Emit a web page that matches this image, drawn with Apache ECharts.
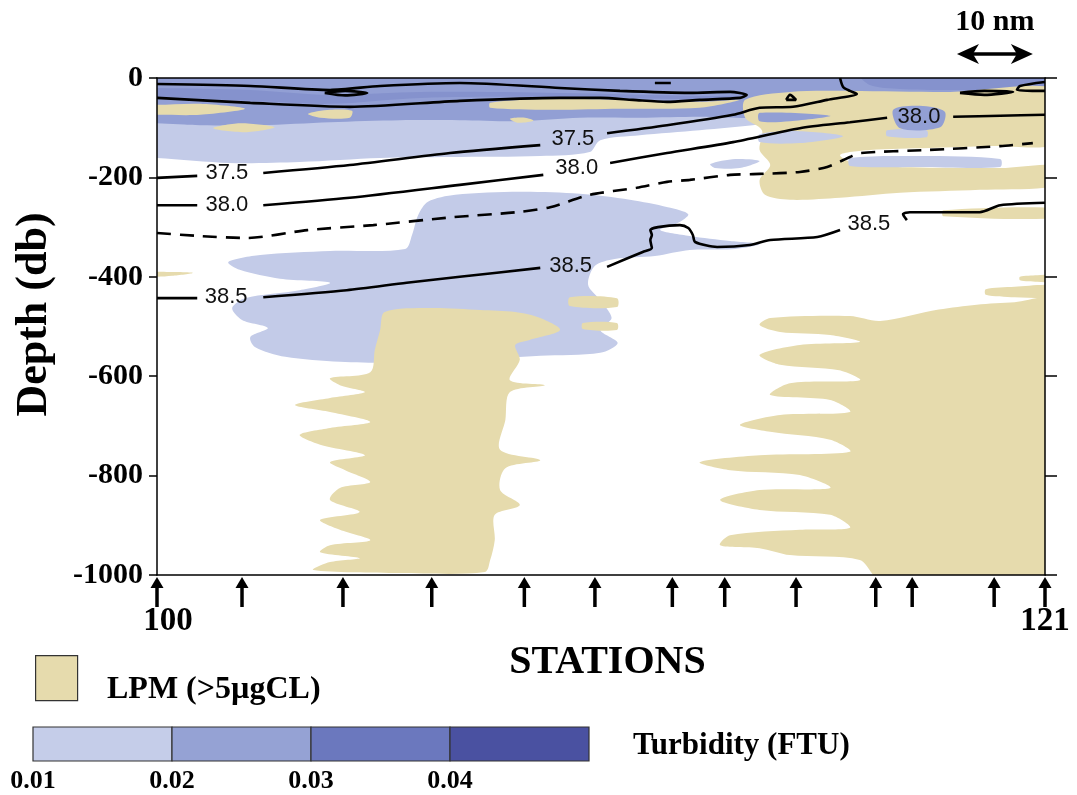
<!DOCTYPE html>
<html><head><meta charset="utf-8">
<script src="https://cdn.jsdelivr.net/npm/echarts@6/dist/echarts.min.js"></script>
<style>html,body{margin:0;padding:0;background:#fff}#c{width:1077px;height:795px}</style>
</head><body><div id="c"></div>
<script>
// ---------------- DATA ----------------
// x = distance along the section (nautical miles), y = depth (db)
const distanceRange = [0, 117];
const depthRange = [-1000, 0];
const depthStep = 200;
const stationPositions = [0, 11.2, 24.5, 36.2, 48.4, 57.7, 67.9, 74.8, 84.2, 94.7, 99.5, 110.3, 117];
const stationEndLabels = ['100', '121'];
const scaleBarStart = 105.4;
const scaleBarLength = 10;
const scaleBarText = '10 nm';

// Turbidity classes (FTU) and LPM
const turbidityBreaks = ['0.01', '0.02', '0.03', '0.04'];
const lpmLabel = 'LPM (>5\u00b5gCL)';
const turbidityLabel = 'Turbidity (FTU)';

// Turbidity 0.01-0.02 areas
const turbLight = [
  [[-2,8],[119,8],[119,-80],[97.9,-76],[83.4,-80],[79.4,-93],[71.5,-105],[63.6,-115],[58.4,-125],[57,-149],[50.5,-157],[38.6,-159],[29.4,-161],[18.8,-169],[9.6,-171],[0,-161],[-2,-161]],
  [[9.4,-370],[13.6,-356],[22.8,-348],[32.7,-344],[33.6,-316],[34.4,-276],[35.7,-249],[39.3,-235],[47.8,-229],[55.7,-233],[62.3,-245],[67.3,-260],[70,-274],[68.6,-292],[66.3,-306],[70.2,-318],[75.5,-328],[79.4,-334],[76.2,-344],[70.2,-346],[65.6,-358],[60.3,-364],[57.7,-378],[56.8,-416],[58.4,-447],[59.9,-483],[58.4,-507],[60.7,-533],[58.4,-553],[50.5,-559],[41.2,-567],[32,-573],[24.1,-571],[16.9,-561],[12.9,-541],[12.3,-521],[14.6,-503],[11.2,-487],[9.9,-463],[11.6,-443],[18.8,-427],[22.8,-412],[16.2,-404],[10.9,-386]],
  [[72.9,-173],[76.2,-163],[79.4,-167],[76.8,-181],[73.5,-181]]
];
// Turbidity 0.02-0.03 areas
const turbMedium = [
  [[-2,8],[119,8],[119,-44],[104.5,-44],[91.3,-54],[83.4,-68],[79.4,-80],[71.5,-78],[63.6,-80],[55.7,-80],[47.8,-87],[39.9,-85],[32,-85],[22.8,-89],[13.6,-95],[5.7,-95],[0,-91],[-2,-91]]
];
// Turbidity 0.03-0.04 areas
const turbDark = [
  [[-2,-20],[0,-20],[12.3,-24],[22.8,-34],[34.7,-28],[53.1,-30],[71.5,-36],[76.8,-36],[71.5,-42],[53.1,-38],[34.7,-40],[22.8,-52],[12.3,-46],[0,-38],[-2,-38]],
  [[92.6,8],[119,8],[119,-20],[105.8,-24],[97.9,-22],[93.9,-14]]
];
// LPM > 5 ugC/L areas
const lpmAreas = [
  [[-2,-54],[0,-54],[5.7,-52],[11.6,-62],[5.7,-74],[0,-74],[-2,-74]],
  [[7.4,-101],[10.9,-91],[15.5,-99],[11.6,-109]],
  [[19.9,-72],[22.8,-64],[25.7,-66],[25.4,-80],[21.5,-80]],
  [[43.9,-50],[51.8,-42],[61,-44],[71.5,-48],[76.8,-44],[71.5,-60],[61,-62],[51.8,-64],[43.9,-60]],
  [[46.5,-82],[48.5,-80],[49.6,-86],[47.5,-90]],
  [[77.5,-44],[83.4,-28],[91.3,-26],[104.5,-28],[119,-24],[119,-129],[109.7,-137],[101.8,-141],[93.9,-145],[90,-155],[92.6,-175],[111.1,-181],[119,-177],[119,-215],[108.4,-225],[97.9,-231],[90,-241],[83.4,-245],[80.1,-235],[79.4,-205],[80.8,-175],[79.4,-145],[79.7,-105],[77.5,-80]],
  [[30,-471],[36,-463],[42.6,-467],[47.2,-471],[50.5,-483],[53.1,-507],[49.1,-527],[47.2,-537],[47.8,-567],[46.5,-608],[51.1,-618],[46.5,-632],[45.9,-688],[45.2,-748],[50.5,-769],[45.9,-785],[45.2,-829],[47.8,-859],[44.5,-879],[44.5,-930],[43.9,-970],[43.2,-994],[32,-996],[20.6,-990],[22.8,-974],[26.7,-966],[21.5,-954],[22.8,-940],[28.1,-930],[24.1,-909],[21.5,-889],[26.7,-873],[22.8,-849],[24.1,-825],[28.1,-813],[24.8,-789],[22.8,-773],[27.4,-759],[21.5,-738],[18.8,-718],[22.8,-704],[28.1,-692],[22.8,-672],[18.2,-658],[22.8,-644],[27.4,-632],[24.1,-618],[22.8,-604],[28.1,-592],[28.7,-547],[29.4,-507]],
  [[54.4,-441],[60.6,-443],[60.6,-461],[54.4,-459]],
  [[56.1,-493],[60.6,-493],[60.6,-507],[56.1,-505]],
  [[-2,-390],[0,-390],[4.7,-392],[2,-398],[0,-400],[-2,-400]],
  [[80.8,-483],[91.3,-479],[95.3,-489],[103,-466],[108,-456],[113,-451],[119,-449],[119,-1010],[95.3,-1010],[92.6,-970],[83.4,-960],[79.4,-946],[74.2,-940],[75.5,-920],[84.7,-909],[91.3,-905],[88.7,-879],[79.4,-869],[74.2,-849],[79.4,-829],[88.7,-825],[84.7,-799],[75.5,-789],[71.5,-773],[79.4,-759],[91.3,-752],[88.7,-728],[80.8,-712],[76.8,-698],[82.1,-678],[91.3,-672],[88.7,-648],[80.8,-638],[83.4,-614],[92.6,-608],[89.9,-588],[82.1,-577],[79.4,-557],[84.7,-537],[92.6,-531],[88.7,-517],[82.1,-511],[79.4,-497]],
  [[109.2,-425],[113,-420],[119,-418],[119,-440],[113,-441],[109.2,-436]],
  [[113.7,-400],[116,-397],[119,-396],[119,-410],[116,-410],[113.7,-407]],
  [[103.6,-266],[119,-262],[119,-282],[103.6,-278]]
];
// Turbidity patches lying inside the LPM area
const turbLightOverLpm = [
  [[79.4,-113],[84.7,-107],[90.4,-117],[84.7,-131],[79.4,-129]],
  [[91.3,-161],[100.5,-157],[111.1,-163],[111.1,-179],[100.5,-179],[91.3,-177]],
  [[96.2,-105],[101.4,-105],[101.4,-119],[96.2,-117]]
];
const turbMediumOverLpm = [
  [[97,-64],[100.5,-56],[103.8,-68],[103.2,-99],[97.9,-101]],
  [[79.4,-70],[88.7,-76],[83.4,-87],[79.4,-87]]
];

// Salinity contours (segments broken where labels sit)
const sal375 = [
  [[0,-201],[5.3,-197]],
  [[14,-191],[25.4,-175],[38.6,-151],[50.5,-135]],
  [[59.3,-111],[67.2,-95],[75.9,-74],[79.4,-60],[83.8,-58],[88.3,-44],[92.2,-32],[91.3,-26],[90.4,-18],[90,0]]
];
const sal380 = [
  [[0,-256],[5.3,-256]],
  [[14,-256],[25.4,-241],[39.9,-215],[50.9,-195]],
  [[59.7,-171],[67.2,-151],[75.9,-129],[84.7,-101],[91.3,-89],[96.2,-80]],
  [[104.9,-78],[111.1,-76],[117,-74]]
];
const sal382Dashed = [[0,-312],[5.7,-318],[11.9,-322],[19.8,-306],[28.5,-296],[39,-280],[47.4,-270],[51.8,-260],[57,-235],[63.2,-221],[67.2,-209],[70.2,-205],[75.5,-195],[79.4,-193],[84.7,-189],[88.3,-179],[91.3,-159],[92.6,-151],[101.4,-145],[111.1,-137],[115.4,-131]];
const sal385 = [
  [[0,-443],[5.3,-443]],
  [[14,-441],[25,-427],[32.9,-412],[39.9,-400],[50.5,-382]],
  [[59.3,-380],[64,-350],[65.2,-342],[65,-326],[65.2,-316],[65,-306],[66,-300],[68.9,-296],[70,-302],[70.6,-316],[70.9,-330],[73.8,-340],[78.1,-336],[80.8,-326],[87,-320],[90,-306]],
  [[98.8,-286],[98.3,-274],[99.2,-270],[108.4,-270],[111.1,-256],[117,-251]]
];
const salSurfaceLoops = [
  [[0,-12],[12.3,-16],[22.8,-24],[29.4,-16],[39.9,-10],[53.1,-20],[61,-26],[70.2,-30],[75.5,-28],[77.7,-34],[76.8,-40],[71.5,-44],[67.2,-48],[62.7,-44],[58.4,-40],[53.1,-40],[39.9,-46],[25.4,-58],[12.3,-50],[0,-40]],
  [[22.1,-30],[24.8,-26],[27.7,-30],[24.8,-35],[22.1,-30]],
  [[82.9,-44],[83.4,-34],[84.2,-44],[82.9,-44]],
  [[105.8,-30],[109,-26],[112.8,-28],[109,-34],[105.8,-30]],
  [[117,-8],[113.7,-16],[113.3,-24],[117,-26]],
  [[65.6,-10],[67.7,-10]]
];
const contourLabelText = ['37.5','38.0','38.5','37.5','38.0','38.5','38.0','38.5'];
const contourLabelPos = [[9.2,-191],[9.2,-256],[9.1,-441],[54.8,-123],[55.3,-181],[54.5,-378],[100.4,-78],[93.8,-294]];

// ---------------- STYLE ----------------
const C_LIGHT = '#c3cbe8', C_MED = '#929fd4', C_DARK = '#8592cd', C_LPM = '#e6dbad';
const legendColors = ['#c5cde9', '#95a2d4', '#6b78be', '#4a51a1'];
const SERIF = '"Liberation Serif","Times New Roman",serif';
const SANS = '"Liberation Sans",Arial,sans-serif';

function polySeries(polys, color) {
  return {
    type: 'custom', coordinateSystem: 'cartesian2d', clip: true, silent: true,
    data: polys.map(p => p[0]),
    renderItem: (params, api) => ({
      type: 'polygon',
      shape: { points: polys[params.dataIndex].map(q => api.coord(q)), smooth: 0.3 },
      style: { fill: color }
    })
  };
}
function lineSeries(pts, dashed) {
  return {
    type: 'line', data: pts, symbol: 'none', smooth: 0.25, silent: true,
    lineStyle: { color: '#000', width: 2.6, type: dashed ? [14, 9] : 'solid' }
  };
}

const series = [];
series.push(polySeries(turbLight, C_LIGHT));
series.push(polySeries(turbMedium, C_MED));
series.push(polySeries(turbDark, C_DARK));
series.push(polySeries(lpmAreas, C_LPM));
series.push(polySeries(turbLightOverLpm, C_LIGHT));
series.push(polySeries(turbMediumOverLpm, C_MED));
[...sal375, ...sal380, ...sal385, ...salSurfaceLoops].forEach(s => series.push(lineSeries(s, false)));
series.push(lineSeries(sal382Dashed, true));
series.push({
  type: 'custom', silent: true, clip: false, data: contourLabelPos,
  renderItem: (p, api) => {
    const c = api.coord(contourLabelPos[p.dataIndex]);
    return { type: 'text', x: c[0], y: c[1], style: { text: contourLabelText[p.dataIndex], fill: '#111', font: '22px ' + SANS, align: 'center', verticalAlign: 'middle' } };
  }
});
// station arrows
series.push({
  type: 'custom', silent: true, clip: false, data: stationPositions.map(x => [x, depthRange[0]]),
  renderItem: (p, api) => {
    const c = api.coord([api.value(0), depthRange[0]]);
    const x = c[0], y = c[1];
    return { type: 'group', children: [
      { type: 'line', shape: { x1: x, y1: y + 10, x2: x, y2: y + 32 }, style: { stroke: '#000', lineWidth: 3.5 } },
      { type: 'polygon', shape: { points: [[x, y + 2], [x - 6.5, y + 13], [x + 6.5, y + 13]] }, style: { fill: '#000' } }
    ] };
  }
});
// scale bar
series.push({
  type: 'custom', silent: true, clip: false, data: [[scaleBarStart, 0]],
  renderItem: (p, api) => {
    const a = api.coord([scaleBarStart, 0]), b = api.coord([scaleBarStart + scaleBarLength, 0]);
    const y = a[1] - 24;
    return { type: 'group', children: [
      { type: 'line', shape: { x1: a[0] + 10, y1: y, x2: b[0] - 10, y2: y }, style: { stroke: '#000', lineWidth: 3.5 } },
      { type: 'polygon', shape: { points: [[a[0], y], [a[0] + 22, y - 10], [a[0] + 16, y], [a[0] + 22, y + 10]] }, style: { fill: '#000' } },
      { type: 'polygon', shape: { points: [[b[0], y], [b[0] - 22, y - 10], [b[0] - 16, y], [b[0] - 22, y + 10]] }, style: { fill: '#000' } },
      { type: 'text', x: (a[0] + b[0]) / 2, y: a[1] - 56, style: { text: scaleBarText, font: 'bold 30px ' + SERIF, fill: '#000', align: 'center', verticalAlign: 'middle' } }
    ] };
  }
});

// legend graphics
const graphic = [
  { type: 'rect', left: 35, top: 655, shape: { width: 42, height: 45 }, style: { fill: C_LPM, stroke: '#333', lineWidth: 1.2 } },
  { type: 'text', x: 107, y: 690, style: { text: lpmLabel, font: 'bold 32px ' + SERIF, fill: '#000', verticalAlign: 'middle' } },
  { type: 'text', x: 633, y: 746, style: { text: turbidityLabel, font: 'bold 31px ' + SERIF, fill: '#000', verticalAlign: 'middle' } }
];
legendColors.forEach((col, i) => {
  graphic.push({ type: 'rect', shape: { x: 33 + i * 139, y: 727, width: 139, height: 34 }, style: { fill: col, stroke: '#333', lineWidth: 1.2 } });
});
turbidityBreaks.forEach((t, i) => {
  graphic.push({ type: 'text', x: 33 + i * 139, y: 781, style: { text: t, font: 'bold 26px ' + SERIF, fill: '#000', align: 'center', verticalAlign: 'middle' } });
});

const axisLine = { show: true, onZero: false, lineStyle: { color: '#000', width: 1.5 } };
const labelFont = { color: '#000', fontFamily: SERIF, fontWeight: 'bold', fontSize: 33 };
const option = {
  animation: false,
  backgroundColor: '#fff',
  grid: { left: 157, right: 32, top: 78, bottom: 220 },
  graphic: graphic,
  xAxis: [
    { type: 'value', min: distanceRange[0], max: distanceRange[1], interval: distanceRange[1], position: 'bottom', z: 10,
      axisLine: axisLine, axisTick: { show: false }, splitLine: { show: false },
      axisLabel: Object.assign({ margin: 30,
        rich: { first: Object.assign({ padding: [0, 0, 0, 22] }, labelFont), last: labelFont },
        formatter: v => v === distanceRange[0] ? '{first|' + stationEndLabels[0] + '}' : (v === distanceRange[1] ? '{last|' + stationEndLabels[1] + '}' : '') }, labelFont),
      name: 'STATIONS', nameLocation: 'middle', nameGap: 52,
      nameTextStyle: { color: '#000', fontFamily: SERIF, fontWeight: 'bold', fontSize: 40, padding: [0, 0, 0, 13] } },
    { type: 'value', min: distanceRange[0], max: distanceRange[1], position: 'top', z: 10,
      axisLine: axisLine, axisTick: { show: false }, axisLabel: { show: false }, splitLine: { show: false } }
  ],
  yAxis: [
    { type: 'value', min: depthRange[0], max: depthRange[1], interval: depthStep, position: 'left', z: 10,
      axisLine: axisLine, axisTick: { show: true, length: 8, lineStyle: { color: '#000', width: 1.5 } },
      splitLine: { show: false },
      axisLabel: { margin: 14, color: '#000', fontFamily: SERIF, fontWeight: 'bold', fontSize: 30, formatter: v => String(v) },
      name: 'Depth (db)', nameLocation: 'middle', nameRotate: 90, nameGap: 100,
      nameTextStyle: { color: '#000', fontFamily: SERIF, fontWeight: 'bold', fontSize: 44, padding: [0, 0, 0, 24] } },
    { type: 'value', min: depthRange[0], max: depthRange[1], interval: depthStep, position: 'right', z: 10,
      axisLine: axisLine, axisTick: { show: true, length: 12, lineStyle: { color: '#000', width: 1.5 } },
      axisLabel: { show: false }, splitLine: { show: false } }
  ],
  series: series
};
const chart = echarts.init(document.getElementById('c'));
chart.setOption(option);
</script></body></html>
